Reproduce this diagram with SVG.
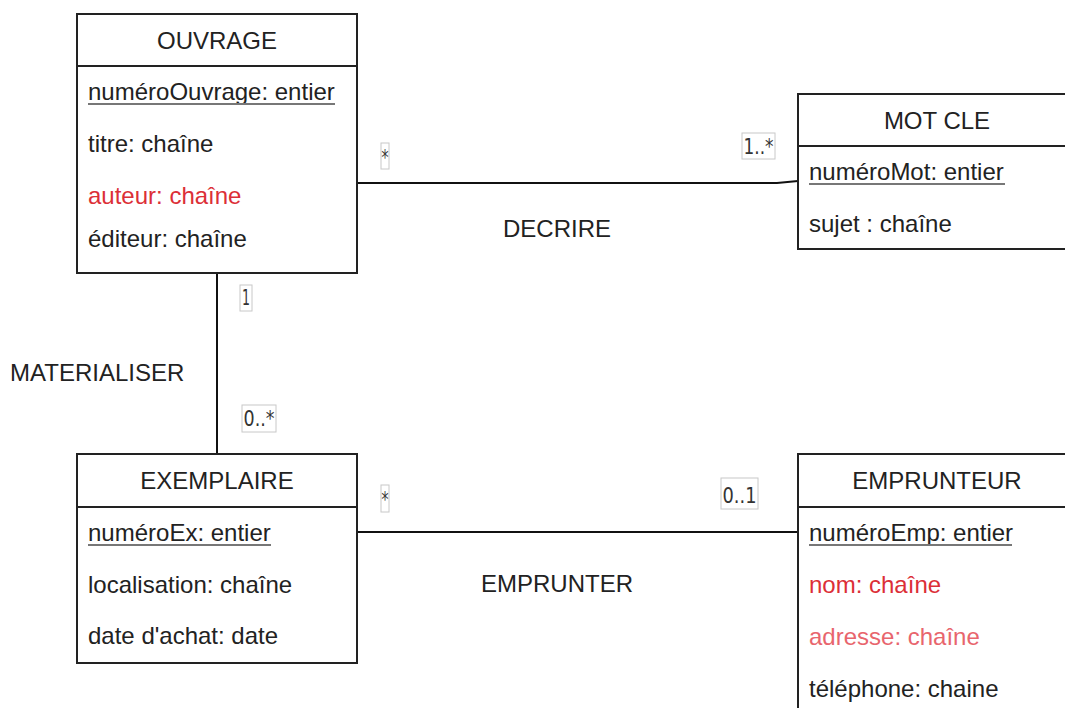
<svg xmlns="http://www.w3.org/2000/svg" width="1065" height="708" viewBox="0 0 1065 708">
<style>
text{font-family:"Liberation Sans",Arial,sans-serif;font-size:24px;fill:#222}
.t{text-anchor:middle}
.red{fill:#dc2f37}
.red2{fill:#e8656d}
.box{fill:#fff;stroke:#222;stroke-width:2}
.div{stroke:#222;stroke-width:2}
.ul{stroke:#777;stroke-width:2}
.conn{stroke:#111;stroke-width:2;fill:none}
.mb{fill:#fff;stroke:#c8c8c8;stroke-width:1}
.m{font-family:"DejaVu Sans",sans-serif;font-size:22px;fill:#333}
.lbl{text-anchor:middle}
</style>
<rect width="1065" height="708" fill="#fff"/>
<g id="connectors">
<path class="conn" d="M357,183 H777 L798,181"/>
<path class="conn" d="M217,273 V454"/>
<path class="conn" d="M357,532 H798"/>
<rect class="mb" x="381" y="143" width="8" height="26"/><text class="m" x="381.5" y="165" textLength="7" lengthAdjust="spacingAndGlyphs">*</text>
<rect class="mb" x="742" y="133" width="33" height="26"/><text class="m" x="743.5" y="154" textLength="30" lengthAdjust="spacingAndGlyphs">1..*</text>
<rect class="mb" x="240" y="285" width="12" height="26"/><text class="m" x="242" y="305" textLength="8" lengthAdjust="spacingAndGlyphs">1</text>
<rect class="mb" x="242" y="405" width="34" height="27"/><text class="m" x="243.5" y="426" textLength="31" lengthAdjust="spacingAndGlyphs">0..*</text>
<rect class="mb" x="381" y="485" width="8" height="27"/><text class="m" x="381.5" y="507" textLength="7" lengthAdjust="spacingAndGlyphs">*</text>
<rect class="mb" x="721" y="478" width="37" height="31"/><text class="m" x="722.5" y="503" textLength="34" lengthAdjust="spacingAndGlyphs">0..1</text>
<text class="lbl" x="557" y="237">DECRIRE</text>
<text x="10" y="381">MATERIALISER</text>
<text class="lbl" x="557" y="592">EMPRUNTER</text>
</g>
<g id="ouvrage">
<rect class="box" x="77" y="14" width="280" height="259"/>
<line class="div" x1="77" y1="66" x2="357" y2="66"/>
<text class="t" x="217" y="49">OUVRAGE</text>
<text x="88" y="100">numéroOuvrage: entier</text>
<line class="ul" x1="88" y1="104" x2="335" y2="104"/>
<text x="88" y="152">titre: chaîne</text>
<text class="red" x="88" y="204">auteur: chaîne</text>
<text x="88" y="247">éditeur: chaîne</text>
</g>
<g id="motcle">
<rect class="box" x="798" y="94" width="280" height="155"/>
<line class="div" x1="798" y1="146" x2="1078" y2="146"/>
<text class="t" x="937" y="129">MOT CLE</text>
<text x="809" y="180">numéroMot: entier</text>
<line class="ul" x1="809" y1="184" x2="1005" y2="184"/>
<text x="809" y="232">sujet : chaîne</text>
</g>
<g id="exemplaire">
<rect class="box" x="77" y="454" width="280" height="209"/>
<line class="div" x1="77" y1="507" x2="357" y2="507"/>
<text class="t" x="217" y="489">EXEMPLAIRE</text>
<text x="88" y="541">numéroEx: entier</text>
<line class="ul" x1="88" y1="545" x2="271" y2="545"/>
<text x="88" y="593">localisation: chaîne</text>
<text x="88" y="644">date d'achat: date</text>
</g>
<g id="emprunteur">
<rect class="box" x="798" y="454" width="280" height="270"/>
<line class="div" x1="798" y1="507" x2="1078" y2="507"/>
<text class="t" x="937" y="489">EMPRUNTEUR</text>
<text x="809" y="541">numéroEmp: entier</text>
<line class="ul" x1="809" y1="545" x2="1012" y2="545"/>
<text class="red" x="809" y="593">nom: chaîne</text>
<text class="red2" x="809" y="645">adresse: chaîne</text>
<text x="809" y="697">téléphone: chaine</text>
</g>
</svg>
